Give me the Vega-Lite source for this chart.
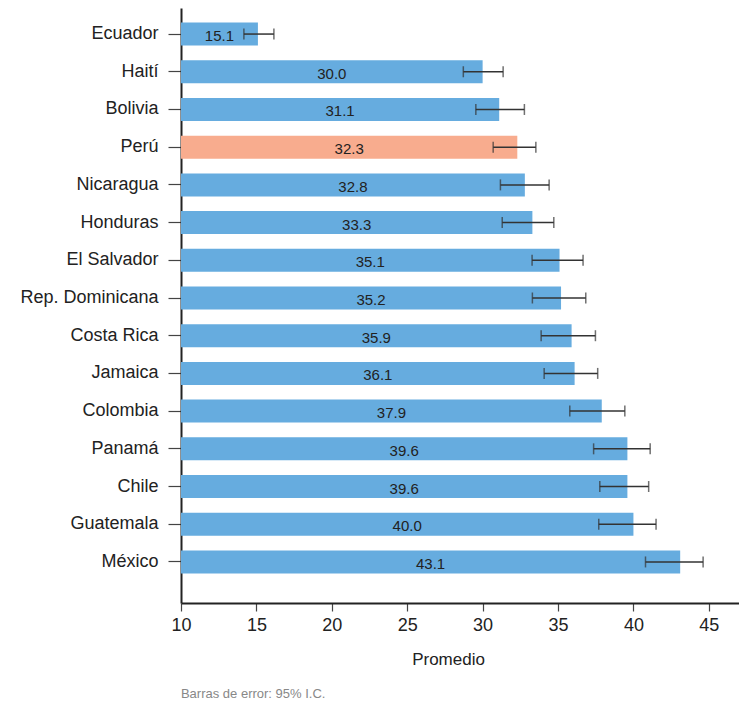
{
  "$schema": "https://vega.github.io/schema/vega-lite/v6.json",
  "autosize": "none",
  "padding": {"left": 181, "top": 8, "right": 0, "bottom": 103},
  "width": 558,
  "height": 595,
  "background": "white",
  "config": {
    "view": {"stroke": null},
    "font": "Liberation Sans",
    "axis": {"grid": false, "domainColor": "#222", "domainWidth": 2, "tickColor": "#444", "labelColor": "#222", "titleColor": "#222", "labelFont": "Liberation Sans", "titleFont": "Liberation Sans", "titleFontWeight": "normal"}
  },
  "title": {"text": "Barras de error: 95% I.C.", "orient": "bottom", "anchor": "start", "fontSize": 13, "fontWeight": "normal", "color": "#888", "font": "Liberation Sans", "offset": 21, "dx": 161},
  "data": {"values": [
    {"pais": "Ecuador", "valor": 15.1, "lo": 14.17, "hi": 16.16},
    {"pais": "Haití", "valor": 30.0, "lo": 28.72, "hi": 31.36},
    {"pais": "Bolivia", "valor": 31.1, "lo": 29.55, "hi": 32.77},
    {"pais": "Perú", "valor": 32.3, "lo": 30.70, "hi": 33.53},
    {"pais": "Nicaragua", "valor": 32.8, "lo": 31.18, "hi": 34.41},
    {"pais": "Honduras", "valor": 33.3, "lo": 31.30, "hi": 34.72},
    {"pais": "El Salvador", "valor": 35.1, "lo": 33.28, "hi": 36.66},
    {"pais": "Rep. Dominicana", "valor": 35.2, "lo": 33.30, "hi": 36.84},
    {"pais": "Costa Rica", "valor": 35.9, "lo": 33.88, "hi": 37.48},
    {"pais": "Jamaica", "valor": 36.1, "lo": 34.08, "hi": 37.63},
    {"pais": "Colombia", "valor": 37.9, "lo": 35.78, "hi": 39.43},
    {"pais": "Panamá", "valor": 39.6, "lo": 37.36, "hi": 41.11},
    {"pais": "Chile", "valor": 39.6, "lo": 37.77, "hi": 41.01},
    {"pais": "Guatemala", "valor": 40.0, "lo": 37.70, "hi": 41.50},
    {"pais": "México", "valor": 43.1, "lo": 40.80, "hi": 44.62}
  ]},
  "encoding": {
    "y": {"field": "pais", "type": "nominal", "sort": null,
      "scale": {"paddingInner": 0.39, "paddingOuter": 0.585, "align": 0.33},
      "axis": {"title": null, "labelFontSize": 18, "tickSize": 13, "labelPadding": 10, "tickWidth": 1.2}}
  },
  "layer": [
    {
      "mark": {"type": "bar"},
      "encoding": {
        "x": {"field": "valor", "type": "quantitative",
          "scale": {"domain": [10, 47], "zero": false, "nice": false},
          "axis": {"title": "Promedio", "titleFontSize": 17, "titlePadding": 17, "titleX": 267,
            "values": [10, 12.5, 15, 17.5, 20, 22.5, 25, 27.5, 30, 32.5, 35, 37.5, 40, 42.5, 45],
            "labelExpr": "datum.value % 5 == 0 ? datum.label : ''",
            "labelFontSize": 18, "tickSize": 8, "labelPadding": 5, "tickWidth": 1.2, "labelFlush": false}},
        "x2": {"datum": 10},
        "color": {"condition": {"test": "datum.pais === 'Perú'", "value": "#F8AC8E"}, "value": "#66ACDF"}
      }
    },
    {
      "mark": {"type": "rule", "color": "#333", "strokeWidth": 1.5},
      "encoding": {"x": {"field": "lo", "type": "quantitative"}, "x2": {"field": "hi"}}
    },
    {
      "mark": {"type": "tick", "color": "#333", "thickness": 1.5, "size": 11, "orient": "vertical"},
      "encoding": {"x": {"field": "lo", "type": "quantitative"}}
    },
    {
      "mark": {"type": "tick", "color": "#333", "thickness": 1.5, "size": 11, "orient": "vertical"},
      "encoding": {"x": {"field": "hi", "type": "quantitative"}}
    },
    {
      "transform": [{"calculate": "(datum.valor + 10) / 2", "as": "medio"}],
      "mark": {"type": "text", "fontSize": 15, "color": "#222", "baseline": "middle", "dy": 2},
      "encoding": {
        "x": {"field": "medio", "type": "quantitative"},
        "text": {"field": "valor", "type": "quantitative", "format": ".1f"}
      }
    }
  ]
}
